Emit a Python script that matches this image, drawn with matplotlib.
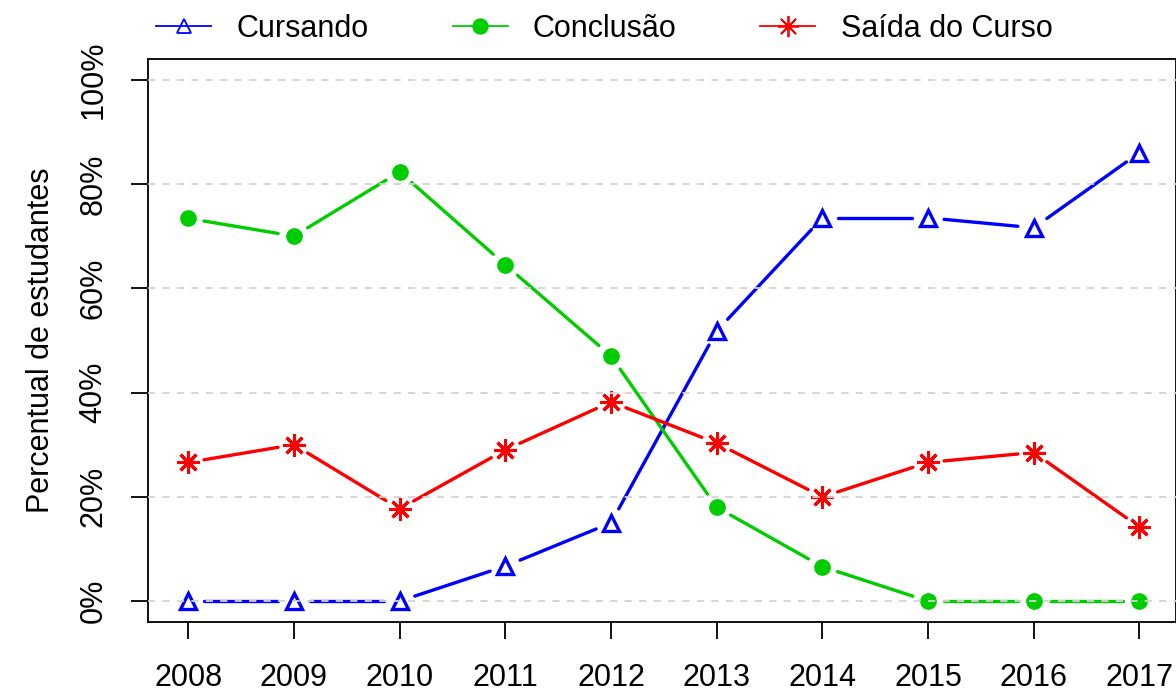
import numpy as np
import matplotlib
matplotlib.use("Agg")
import matplotlib.pyplot as plt
from matplotlib.lines import Line2D

plt.rcParams['font.family'] = ['Liberation Sans', 'DejaVu Sans']

anos = [2008, 2009, 2010, 2011, 2012, 2013, 2014, 2015, 2016, 2017]
cursando = [0, 0, 0, 6.7, 15.0, 51.8, 73.5, 73.5, 71.6, 86.0]
conclusao = [73.4, 70.0, 82.3, 64.5, 47.0, 18.0, 6.6, 0, 0, 0]
saida = [26.6, 30.0, 17.7, 29.0, 38.2, 30.3, 20.0, 26.6, 28.5, 14.2]
yticks = [0, 20, 40, 60, 80, 100]

series = [
    ("Cursando", cursando, "#0000FF", dict(marker="^", ms=11, mfc="none", mew=2.4)),
    ("Conclusão", conclusao, "#00CD00", dict(marker="o", ms=11, mfc="#00CD00", mew=1)),
    ("Saída do Curso", saida, "#FF0000", dict(marker=(8, 2, 0), ms=16, mew=2.2)),
]

fs = 22

fig = plt.figure(figsize=(11.76, 6.92), dpi=100)
ax = fig.add_axes([0.1259, 0.1012, 0.8745, 0.8138])
ax.set_xlim(2007.62, 2017.35)
ax.set_ylim(-4, 104)

gap = 16  # px gap around points (like R type="b")
fig.canvas.draw()
tr = ax.transData
inv = tr.inverted()

handles = []
for nome, vals, cor, mk in series:
    pts = tr.transform(np.column_stack([anos, vals]))
    for i in range(len(pts) - 1):
        p0, p1 = pts[i], pts[i + 1]
        d = p1 - p0
        L = np.hypot(*d)
        if L <= 2 * gap:
            continue
        u = d / L
        a = inv.transform(p0 + u * gap)
        b = inv.transform(p1 - u * gap)
        ax.plot([a[0], b[0]], [a[1], b[1]], color=cor, lw=2.4,
                solid_capstyle="round", zorder=2)
    ax.plot(anos, vals, ls="none", color=cor, mec=cor, zorder=3, **mk)
    handles.append(Line2D([], [], color=cor, lw=1.3, mec=cor,
                          **{**mk, "ms": mk["ms"] * 0.95, "mew": 1.3}))

for v in yticks:
    ax.axhline(v, color="#D3D3D3", lw=1.3, ls=(0, (4, 4)), zorder=4)

ax.set_xticks(anos)
ax.set_yticks(yticks)
ax.set_yticklabels([f"{v}%" for v in yticks], rotation=90, va="center")
ax.tick_params(axis="both", length=12.5, width=1.3, labelsize=fs, pad=16)
ax.tick_params(axis="x", pad=17)
for s in ax.spines.values():
    s.set_linewidth(1.3)

ax.set_ylabel("Percentual de estudantes", fontsize=fs, labelpad=16)

fig.legend(handles, [s[0] for s in series], loc="center left",
           bbox_to_anchor=(0.133, 0.958), ncol=3, frameon=False,
           fontsize=fs, handlelength=1.8, handletextpad=0.82,
           columnspacing=2.75, borderpad=0, borderaxespad=0)

fig.savefig("out.png", dpi=100)
